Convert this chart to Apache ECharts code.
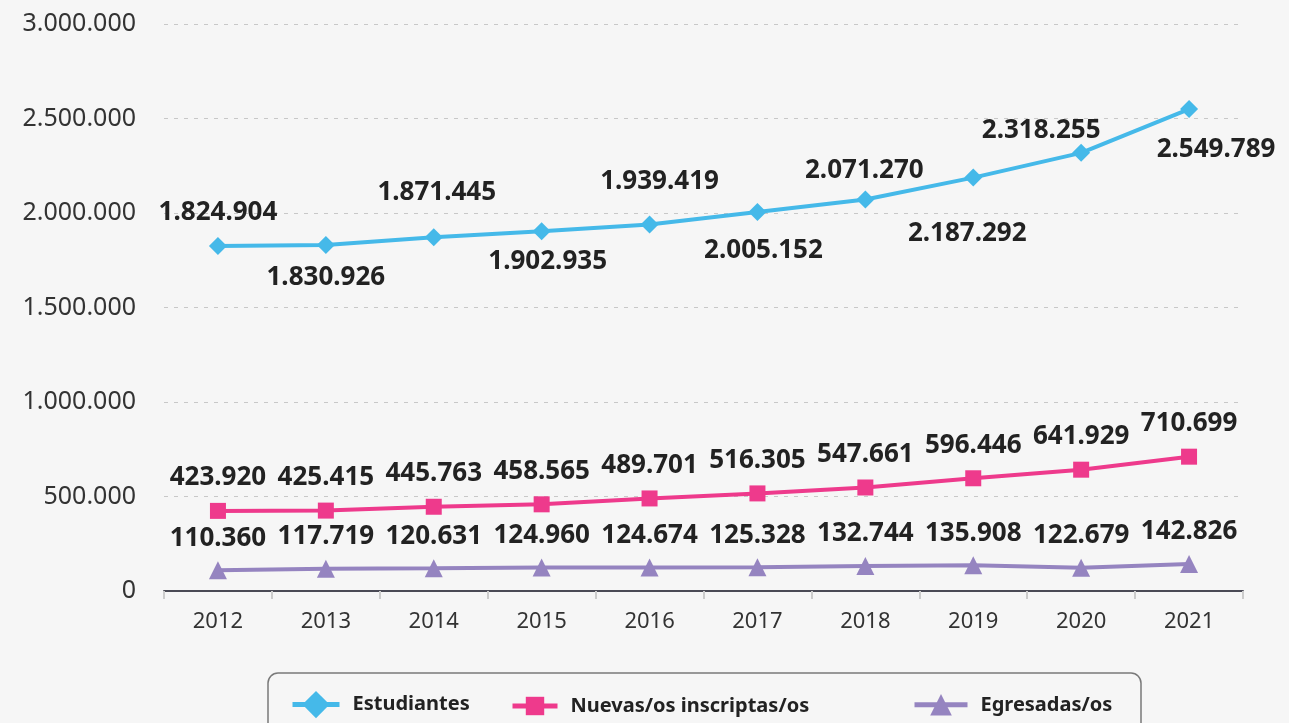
<!DOCTYPE html>
<html>
<head>
<meta charset="utf-8">
<script src="https://cdn.jsdelivr.net/npm/echarts@6/dist/echarts.min.js"></script>
<style>
  html, body { margin: 0; padding: 0; background: #f6f6f6; }
  #chart { width: 1289px; height: 723px; }
</style>
</head>
<body>
<div id="chart"></div>
<script>
// datos
const years = ['2012', '2013', '2014', '2015', '2016', '2017', '2018', '2019', '2020', '2021']
const estudiantes = [1824904, 1830926, 1871445, 1902935, 1939419, 2005152, 2071270, 2187292, 2318255, 2549789]
const nuevos = [423920, 425415, 445763, 458565, 489701, 516305, 547661, 596446, 641929, 710699]
const egresados = [110360, 117719, 120631, 124960, 124674, 125328, 132744, 135908, 122679, 142826]
const yTicks = [0, 500000, 1000000, 1500000, 2000000, 2500000, 3000000]

// ajuste fino de las etiquetas de estudiantes (px, x / y)
const shiftX = [0, 0, 3, 6, 10, 6, -1, -6, -40, 27]
const shiftY = [0, 0, -12, -3, -10, 6, 4, 23, 11, 8]

const FONT = 'Noto Sans'
// separador de miles con punto
const fmt = v => String(v).replace(/\B(?=(\d{3})+(?!\d))/g, '.')

const labelStyle = {
  show: true,
  fontFamily: FONT,
  fontSize: 26,
  fontWeight: 'bold',
  color: '#222',
  formatter: p => fmt(p.value)
}

// estudiantes: etiquetas alternadas arriba / abajo
const estudiantesData = estudiantes.map((v, i) => ({
  value: v,
  label: {
    position: i % 2 === 0 ? 'top' : 'bottom',
    distance: 11,
    offset: [shiftX[i], shiftY[i]]
  }
}))

const legendText = { fontFamily: FONT, fontSize: 20, fontWeight: 'bold', color: '#222', padding: [0, 0, 0, 8] }

const chart = echarts.init(document.getElementById('chart'))
chart.setOption({
  backgroundColor: '#f6f6f6',
  animation: false,
  grid: { left: 164, right: 46, top: 24, bottom: 132 },
  xAxis: {
    type: 'category',
    data: years,
    boundaryGap: true,
    axisLine: { lineStyle: { color: '#4a4a55', width: 2 } },
    axisTick: { show: true, length: 8, lineStyle: { color: '#cccccc', width: 2 } },
    axisLabel: { fontFamily: FONT, fontSize: 22, color: '#333', margin: 20 }
  },
  yAxis: {
    type: 'value',
    min: yTicks[0],
    max: yTicks[yTicks.length - 1],
    interval: yTicks[1] - yTicks[0],
    axisLine: { show: false },
    axisTick: { show: false },
    splitLine: { lineStyle: { color: '#c8c8c8', type: [4, 6], width: 1 } },
    axisLabel: { fontFamily: FONT, fontSize: 25, color: '#333', margin: 28, formatter: fmt }
  },
  legend: [
    {
      data: ['Estudiantes'], left: 290, top: 691, padding: 0,
      itemWidth: 47, itemHeight: 34,
      lineStyle: { width: 5 },
      textStyle: legendText
    },
    {
      data: ['Nuevas/os inscriptas/os'], left: 510, top: 696, padding: 0,
      itemWidth: 45, itemHeight: 23,
      lineStyle: { width: 5 },
      textStyle: legendText
    },
    {
      data: ['Egresadas/os'], left: 912, top: 694, padding: 0,
      itemWidth: 53, itemHeight: 27,
      lineStyle: { width: 5 },
      textStyle: legendText
    }
  ],
  graphic: [
    {
      type: 'rect',
      shape: { x: 268, y: 673, width: 873, height: 80, r: 10 },
      style: { fill: 'transparent', stroke: '#7a7a7a', lineWidth: 1.5 },
      silent: true
    }
  ],
  series: [
    {
      name: 'Estudiantes',
      type: 'line',
      data: estudiantesData,
      symbol: 'diamond',
      symbolSize: 18,
      itemStyle: { color: '#45b9e9' },
      lineStyle: { color: '#45b9e9', width: 4 },
      label: labelStyle
    },
    {
      name: 'Nuevas/os inscriptas/os',
      type: 'line',
      data: nuevos,
      symbol: 'rect',
      symbolSize: 16,
      itemStyle: { color: '#ee3a8c' },
      lineStyle: { color: '#ee3a8c', width: 4 },
      label: Object.assign({}, labelStyle, { position: 'top', distance: 12 })
    },
    {
      name: 'Egresadas/os',
      type: 'line',
      data: egresados,
      symbol: 'triangle',
      symbolSize: 18,
      itemStyle: { color: '#9584c0' },
      lineStyle: { color: '#9584c0', width: 4 },
      label: Object.assign({}, labelStyle, { position: 'top', distance: 10 })
    }
  ]
})
</script>
</body>
</html>
